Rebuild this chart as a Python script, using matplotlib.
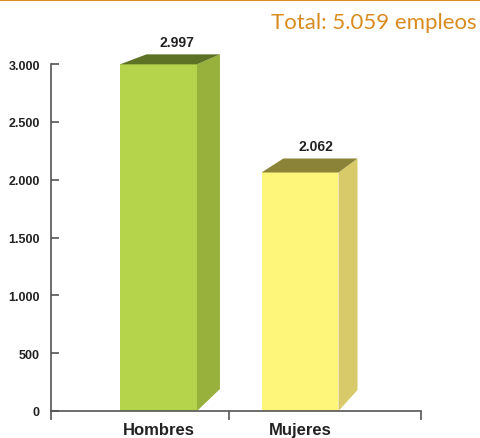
import matplotlib.pyplot as plt
from matplotlib.patches import Polygon
from matplotlib.lines import Line2D

categories = ['Hombres', 'Mujeres']
empleos = [2997, 2062]
total_label = 'Total: 5.059 empleos'
yticks = [0, 500, 1000, 1500, 2000, 2500, 3000]
ytick_labels = ['0', '500', '1.000', '1.500', '2.000', '2.500', '3.000']

front_colors = ['#b6d44b', '#fef57b']
side_colors = ['#97b13c', '#d8ca68']
top_colors = ['#5e7226', '#8b8338']
orange = '#d98b20'

W, H = 481, 439
fig = plt.figure(figsize=(W / 100, H / 100), dpi=100)
ax = fig.add_axes([51 / W, 1 - 412 / H, 370 / W, 347 / H])
ax.set_xlim(0, 2)
ax.set_ylim(0, 3000)

# pixel -> data helpers
sx = 2 / 370
sy = 3000 / 347

pos = [0.581, 1.346]
width = 0.416
depth_x = [23, 19]      # px
depth_top = [10, 14]    # px
depth_bot = [22, 21]    # px

for i, v in enumerate(empleos):
    x0 = pos[i] - width / 2
    x1 = pos[i] + width / 2
    dx = depth_x[i] * sx
    dyt = depth_top[i] * sy
    dyb = depth_bot[i] * sy
    ax.add_patch(Polygon([(x0, 0), (x1, 0), (x1, v), (x0, v)], closed=True,
                         facecolor=front_colors[i], edgecolor='none', zorder=3))
    ax.add_patch(Polygon([(x1, 0), (x1, v), (x1 + dx, v + dyt), (x1 + dx, dyb)],
                         closed=True, facecolor=side_colors[i], edgecolor='none',
                         zorder=3, clip_on=False))
    ax.add_patch(Polygon([(x0, v), (x1, v), (x1 + dx, v + dyt), (x0 + dx * 1.15, v + dyt)],
                         closed=True, facecolor=top_colors[i], edgecolor='none',
                         zorder=3, clip_on=False))
    ax.text(pos[i] + dx / 2 + 0.035, v + dyt + 5 * sy, f'{v:,}'.replace(',', '.'),
            ha='center', va='bottom', fontsize=10, fontweight='bold',
            color='#222222', family='Liberation Sans')

for s in ['top', 'right']:
    ax.spines[s].set_visible(False)
for s in ['left', 'bottom']:
    ax.spines[s].set_color('#555555')
    ax.spines[s].set_linewidth(1.2)
    ax.spines[s].set_zorder(4)

ax.set_yticks(yticks)
ax.set_yticklabels(ytick_labels, fontsize=9, fontweight='bold',
                   family='Liberation Sans', color='#222222')
ax.tick_params(axis='y', direction='in', length=6, width=1.2, color='#555555', pad=8)

ax.set_xticks([0, 0.962, 2])
ax.set_xticklabels([])
ax.tick_params(axis='x', which='major', direction='out', length=6.5, width=1.2,
               color='#555555')
ax.set_xticks(pos, minor=True)
ax.set_xticklabels(categories, minor=True, fontsize=12, fontweight='bold',
                   family='Liberation Sans', color='#222222')
ax.tick_params(axis='x', which='minor', length=0, pad=8)

fig.text(477 / W, 1 - 23 / H, total_label, ha='right', va='center',
         fontsize=16, color=orange, family='Lato')
fig.add_artist(Line2D([0, 1], [1 - 1 / H, 1 - 1 / H], color=orange, lw=1.5,
                      transform=fig.transFigure))

fig.savefig('out.png', dpi=100)
